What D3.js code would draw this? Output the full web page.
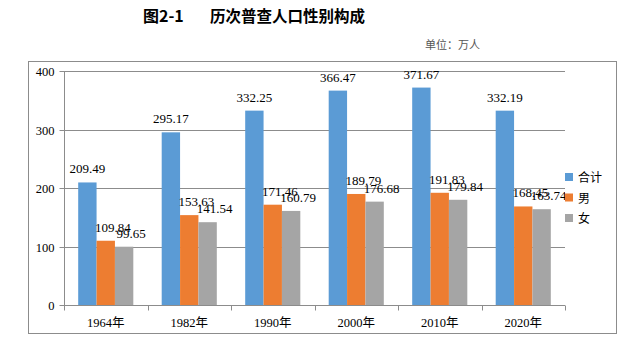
<!DOCTYPE html>
<html><head><meta charset="utf-8">
<script src="https://cdn.jsdelivr.net/npm/d3@7/dist/d3.min.js"></script>
<style>body{margin:0;background:#fff}</style>
</head><body>
<svg id="c" width="633" height="350"></svg>
<script>
const categories = ["1964年","1982年","1990年","2000年","2010年","2020年"];
const seriesNames = ["合计","男","女"];
const totalVals = [209.49,295.17,332.25,366.47,371.67,332.19];
const maleVals = [109.84,153.63,171.46,189.79,191.83,168.45];
const femaleVals = [99.65,141.54,160.79,176.68,179.84,163.74];
const yTicks = [0,100,200,300,400];
const colors = ["#5B9BD5","#ED7D31","#A5A5A5"];
const series = [totalVals, maleVals, femaleVals];

const svg = d3.select("#c");
const numFont = "'Liberation Serif','Noto Sans CJK SC',serif";
const m = {l:64, r:565, t:71, b:305};

svg.append("defs").append("clipPath").attr("id","lblclip")
  .append("rect").attr("x",28).attr("y",61).attr("width",565-28).attr("height",272);

svg.append("text").attr("x",143).attr("y",22)
  .attr("font-family","'Noto Sans CJK SC',sans-serif").attr("font-weight","bold").attr("font-size",16)
  .attr("fill","#000").text("图2-1");
svg.append("text").attr("x",210).attr("y",22)
  .attr("font-family","'Noto Sans CJK SC',sans-serif").attr("font-weight","bold").attr("font-size",15.5)
  .attr("fill","#000").text("历次普查人口性别构成");
svg.append("text").attr("x",480).attr("y",49).attr("text-anchor","end")
  .attr("font-family","'Noto Sans CJK SC',sans-serif").attr("font-size",11)
  .attr("fill","#555").text("单位：万人");

svg.append("rect").attr("x",28.5).attr("y",61.5).attr("width",588).attr("height",272)
  .attr("fill","none").attr("stroke","#8c8c8c").attr("stroke-width",1);

const x = d3.scaleBand().domain(categories).range([m.l,m.r]).paddingInner(0.34).paddingOuter(0.17);
const xs = d3.scaleBand().domain(seriesNames).range([0,x.bandwidth()]);
const y = d3.scaleLinear().domain([0,400]).range([m.b,m.t]);

// gridlines
svg.append("g").selectAll("line").data(yTicks).join("line")
  .attr("x1",m.l).attr("x2",m.r).attr("y1",d=>Math.round(y(d))+0.5).attr("y2",d=>Math.round(y(d))+0.5)
  .attr("stroke","#8c8c8c").attr("stroke-width",1);

// y axis
const ya = svg.append("g").attr("transform",`translate(${m.l+0.5},0)`)
  .call(d3.axisLeft(y).tickValues(yTicks).tickSize(5).tickPadding(5).tickFormat(d3.format("d")));
ya.select(".domain").attr("stroke","#8c8c8c").attr("d",`M0,${m.t}V${m.b}`);
ya.selectAll(".tick line").attr("stroke","#8c8c8c");
ya.selectAll(".tick").attr("transform",d=>`translate(0,${Math.round(y(d))+0.5})`);
ya.selectAll("text").attr("font-family",numFont).attr("font-size",12.5).attr("fill","#000");

// bars
const barsG = svg.append("g");
series.forEach((vals,si)=>{
  barsG.append("g").selectAll("rect").data(vals).join("rect")
    .attr("x",(d,i)=>x(categories[i])+xs(seriesNames[si]))
    .attr("width",xs.bandwidth())
    .attr("y",d=>y(d)).attr("height",d=>m.b-y(d))
    .attr("fill",colors[si]);
});
const labelsG = svg.append("g").attr("clip-path","url(#lblclip)");
series.forEach((vals,si)=>{
  labelsG.append("g").selectAll("text").data(vals).join("text")
    .attr("x",(d,i)=>x(categories[i])+xs(seriesNames[si])+xs.bandwidth()/2+(si===0?0:7))
    .attr("y",d=>y(d)-9)
    .attr("text-anchor","middle").attr("font-family",numFont).attr("font-size",13).attr("fill","#000")
    .text(d=>d.toFixed(2));
});

// x axis
const xa = svg.append("g").attr("transform",`translate(0,${Math.round(y(0))+0.5})`);
xa.append("line").attr("x1",m.l).attr("x2",m.r).attr("stroke","#8c8c8c");
const bounds = categories.map(c=>x(c)-x.step()*x.paddingInner()/2).concat([m.r]);
xa.selectAll("line.tk").data(bounds).join("line").attr("class","tk")
  .attr("x1",d=>Math.round(d)+0.5).attr("x2",d=>Math.round(d)+0.5).attr("y1",0).attr("y2",5).attr("stroke","#8c8c8c");
xa.selectAll("text").data(categories).join("text")
  .attr("x",d=>x(d)+x.bandwidth()/2).attr("y",21).attr("text-anchor","middle")
  .attr("font-family",numFont).attr("font-size",12.5).attr("fill","#000").text(d=>d);

// legend
const lg = svg.append("g").selectAll("g").data(seriesNames).join("g")
  .attr("transform",(d,i)=>`translate(565,${177+i*20.5})`);
lg.append("rect").attr("x",0).attr("y",-4).attr("width",8).attr("height",8).attr("fill",(d,i)=>colors[i]);
lg.append("text").attr("x",13).attr("y",5).attr("font-family","'Noto Sans CJK SC',sans-serif")
  .attr("font-size",12).attr("fill","#000").text(d=>d);
</script>
</body></html>
